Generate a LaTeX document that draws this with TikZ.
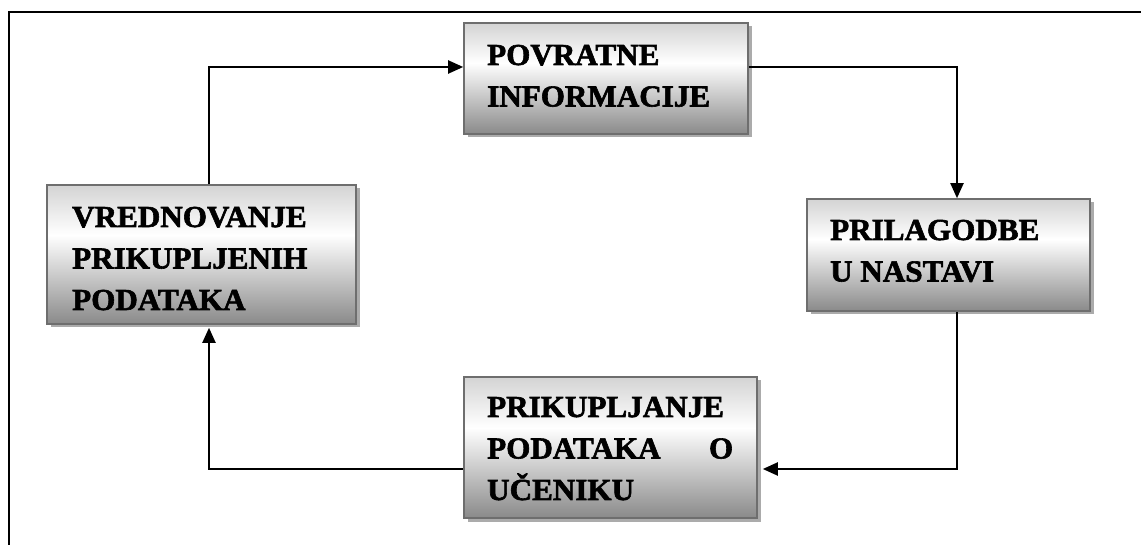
\documentclass[tikz,border=0pt]{standalone}
\usepackage{fontspec}
\newfontfamily\boxfont[FakeStretch=1.02, BoldFeatures={FakeBold=2}]{Liberation Serif}
\usetikzlibrary{arrows.meta,shadows}
\pgfdeclareverticalshading{boxshade}{100bp}{color(0bp)=(black!46); color(25bp)=(black!46); color(57bp)=(white); color(75bp)=(black!17); color(100bp)=(black!17)}
\tikzset{
  procbox/.style={draw=black!57, line width=1.6pt, shading=boxshade, inner sep=0pt,
    drop shadow={shadow xshift=3.5pt, shadow yshift=-3.5pt, fill=black!33, opacity=1}},
  lbl/.style={inner sep=0pt, anchor=base west, font=\boxfont\bfseries\fontsize{30.5}{41.5}\selectfont},
  conn/.style={line width=2pt, -{Triangle[length=15pt,width=13pt]}}
}
\begin{document}
\begin{tikzpicture}[x=1pt,y=-1pt]
\useasboundingbox (0,0) rectangle (1141,545);
\draw[line width=2.5pt] (9,545) -- (9,12) -- (1141,12);

\node[procbox, minimum width=284pt, minimum height=111pt] (pov) at (606,78.5) {};
\node[procbox, minimum width=309pt, minimum height=139pt] (v) at (201.5,254.5) {};
\node[procbox, minimum width=283pt, minimum height=112pt] (pri) at (948.5,255) {};
\node[procbox, minimum width=293pt, minimum height=141pt] (pu) at (610.5,447.5) {};

\node[lbl] (tpov) at (487,65) {\parbox[t]{250pt}{\raggedright POVRATNE\\INFORMACIJE}};
\node[lbl] (tv) at (72,227) {\parbox[t]{270pt}{\raggedright VREDNOVANJE\\PRIKUPLJENIH\\PODATAKA}};
\node[lbl] (tpri) at (830,240) {\parbox[t]{250pt}{\raggedright PRILAGODBE\\U NASTAVI}};
\node[lbl] (tpu) at (487,417) {\parbox[t]{246pt}{\raggedright PRIKUPLJANJE\\PODATAKA\hfill O\\UČENIKU}};

\draw[conn] ([xshift=7.5pt]v.north) |- ([yshift=11.5pt]pov.west);
\draw[conn] ([yshift=11.5pt]pov.east) -| ([xshift=8.5pt]pri.north);
\draw[conn] ([xshift=8.5pt]pri.south) |- ([shift={(5pt,-21.5pt)}]pu.east);
\draw[conn] ([yshift=-21.5pt]pu.west) -| ([shift={(7.5pt,-3pt)}]v.south);
\end{tikzpicture}
\end{document}
